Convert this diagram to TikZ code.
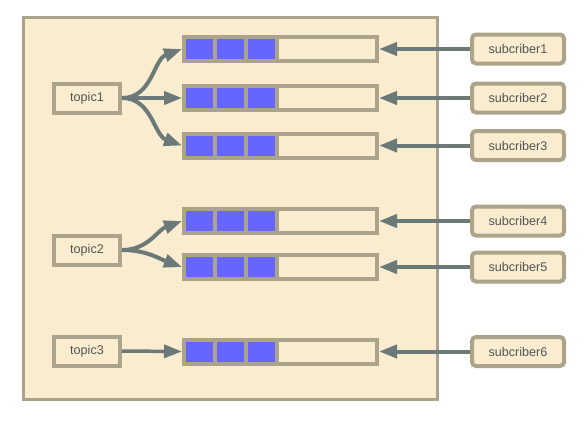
\documentclass[tikz,border=0pt]{standalone}
\usepackage{fontspec}
\setmainfont{Liberation Sans}
\usetikzlibrary{calc,arrows.meta}
\definecolor{paper}{RGB}{249,236,207}
\definecolor{edge}{RGB}{171,163,138}
\definecolor{wire}{RGB}{107,122,121}
\definecolor{cellblue}{RGB}{102,102,255}
\definecolor{label}{RGB}{85,85,85}
\tikzset{
  topicbox/.style={draw=edge,fill=paper,line width=4pt,minimum width=66pt,minimum height=29pt,inner sep=0pt,font=\fontsize{12.6}{14}\selectfont,text=label},
  subbox/.style={topicbox,rounded corners=4pt,minimum width=92pt},
  queuebox/.style={draw=edge,fill=paper,line width=4pt,minimum width=193pt,minimum height=24pt,inner sep=0pt},
  cell/.style={draw=edge,fill=cellblue,line width=4pt},
  feed/.style={draw=wire,line width=4pt,-{Triangle[length=18pt,width=13pt]}}
}

\begin{document}
\begin{tikzpicture}[x=1pt,y=-1pt]
            \useasboundingbox[fill=white] (0,0) rectangle (588,424);
            \node[draw=edge,fill=paper,line width=3pt,minimum width=414pt,minimum height=382pt] (broker) at (230.5,208.5) {};
            \foreach \i/\y in {1/98,2/250,3/351}
            {
                \node[topicbox] (topic\i) at (87,\y) {topic\i};
            }
            \foreach \i/\y in {1/49,2/98,3/145.5,4/221,5/267,6/351.5}
            {
                \node[queuebox] (queue\i) at (280.5,\y) {};
                \foreach \k in {0,1,2}
                {
                    \draw[cell] ($(queue\i.north west)+(2+31*\k,2)$) rectangle +(31,24);
                }
                \node[subbox] (subscriber\i) at (518,\y) {subcriber\i};
                \draw[feed] (subscriber\i.west) -- (queue\i.east);
            }
            \draw[feed] (topic1.east) to[out=0,in=200] (queue1.west);
            \draw[feed] (topic1.east) -- (queue2.west);
            \draw[feed] (topic1.east) to[out=0,in=160] (queue3.west);
            \draw[feed] (topic2.east) to[out=0,in=200] (queue4.west);
            \draw[feed] (topic2.east) to[out=0,in=160] (queue5.west);
            \draw[feed,line width=3.5pt] (topic3.east) -- (queue6.west);
        \end{tikzpicture}
\end{document}
